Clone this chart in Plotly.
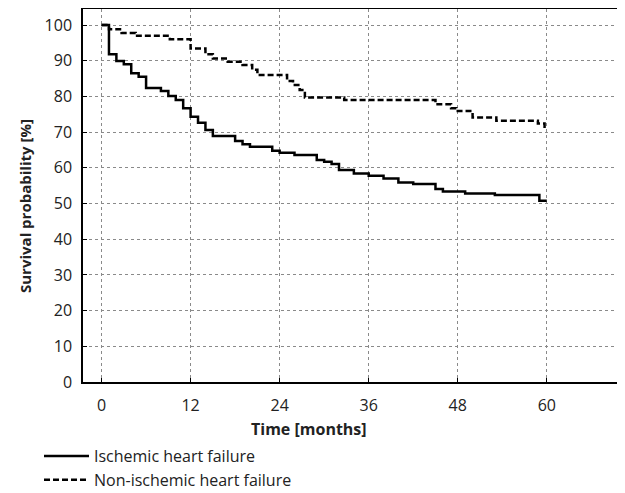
import plotly.graph_objects as go

# Ischemic heart failure (solid) – step curve
isch_t = [0, 1, 2, 3, 4, 5, 6, 8, 9, 10, 11, 12, 13, 14, 15, 18, 19, 20, 23, 24, 26, 29, 30, 31, 32, 34, 36, 38, 40, 42, 45, 46, 49, 53, 59, 60]
isch_s = [100, 91.8, 89.9, 89.0, 86.5, 85.5, 82.4, 81.5, 80.1, 79.0, 76.7, 74.3, 72.6, 70.6, 68.9, 67.5, 66.6, 65.9, 64.8, 64.2, 63.6, 62.2, 61.7, 61.1, 59.4, 58.4, 57.8, 57.0, 55.9, 55.5, 54.1, 53.4, 52.8, 52.4, 50.8, 50.8]

# Non-ischemic heart failure (dashed) – step curve
non_t = [0, 1, 2.7, 4.6, 9.2, 12, 14, 15, 17, 19, 20.3, 21, 25, 25.8, 26.7, 27.4, 32.7, 45, 47.1, 47.8, 50, 53.2, 58.8, 59.7, 60]
non_s = [100, 98.8, 97.8, 97.0, 96.0, 93.4, 91.8, 90.6, 89.7, 88.8, 87.5, 86.0, 84.3, 83.2, 81.8, 79.7, 79.0, 77.8, 76.7, 75.9, 74.1, 73.2, 72.4, 71.5, 71.5]

x_ticks = [0, 12, 24, 36, 48, 60]
y_ticks = [0, 10, 20, 30, 40, 50, 60, 70, 80, 90, 100]

FONT = "Open Sans"
OFF = 8  # page body margin offset
W, H = 625, 493
# target screen positions of the plot frame
SL, ST, SR, SB = 83, 9, 621, 382
L, T = SL - OFF, ST - OFF
R, B = W - (SR - OFF), H - (SB - OFF)
PW, PH = W - L - R, H - T - B
PB = T + PH  # figure-y of plot bottom


def px_x(sx):
    return (sx - OFF - L) / PW


def px_y(sy):
    return (PB - (sy - OFF)) / PH


fig = go.Figure()
fig.add_trace(go.Scatter(x=isch_t, y=isch_s, mode="lines", line_shape="hv",
                         name="Ischemic heart failure",
                         line=dict(color="black", width=2.5)))
fig.add_trace(go.Scatter(x=non_t, y=non_s, mode="lines", line_shape="hv",
                         name="Non-ischemic heart failure",
                         line=dict(color="black", width=2.5, dash="6px,3px")))

axis_common = dict(
    showline=True, linecolor="black", linewidth=1.5, mirror=True,
    showgrid=True, gridcolor="#8a8a8a", gridwidth=1, griddash="dot",
    ticks="inside", ticklen=4, tickcolor="black", automargin=False,
    zeroline=False, tickfont=dict(family=FONT, size=16, color="#222"),
)

fig.update_xaxes(range=[-2.5, 70], tickvals=x_ticks, ticklabelstandoff=8, **axis_common)
fig.update_yaxes(range=[0, 104.5], tickvals=y_ticks, ticklabelstandoff=6, **axis_common)

fig.update_layout(
    width=W, height=H,
    margin=dict(l=L, r=R, t=T, b=B, autoexpand=False),
    plot_bgcolor="white", paper_bgcolor="white",
    font=dict(family=FONT, color="#222"),
    showlegend=True,
    legend=dict(x=px_x(39), xanchor="left",
                y=px_y(497), yanchor="bottom",
                font=dict(family=FONT, size=16, color="#222"),
                itemwidth=45,
                bgcolor="rgba(0,0,0,0)", tracegroupgap=0),
    annotations=[
        dict(text="<b>Time [months]</b>", x=px_x(309), xref="paper",
             y=px_y(429), yref="paper", showarrow=False,
             font=dict(family=FONT, size=16, color="#222"),
             xanchor="center", yanchor="middle"),
        dict(text="<b>Survival probability [%]</b>", x=px_x(25), xref="paper",
             y=px_y(206), yref="paper", textangle=-90, showarrow=False,
             font=dict(family=FONT, size=15, color="#222"),
             xanchor="center", yanchor="middle"),
    ],
)

fig.write_html("out.html")
